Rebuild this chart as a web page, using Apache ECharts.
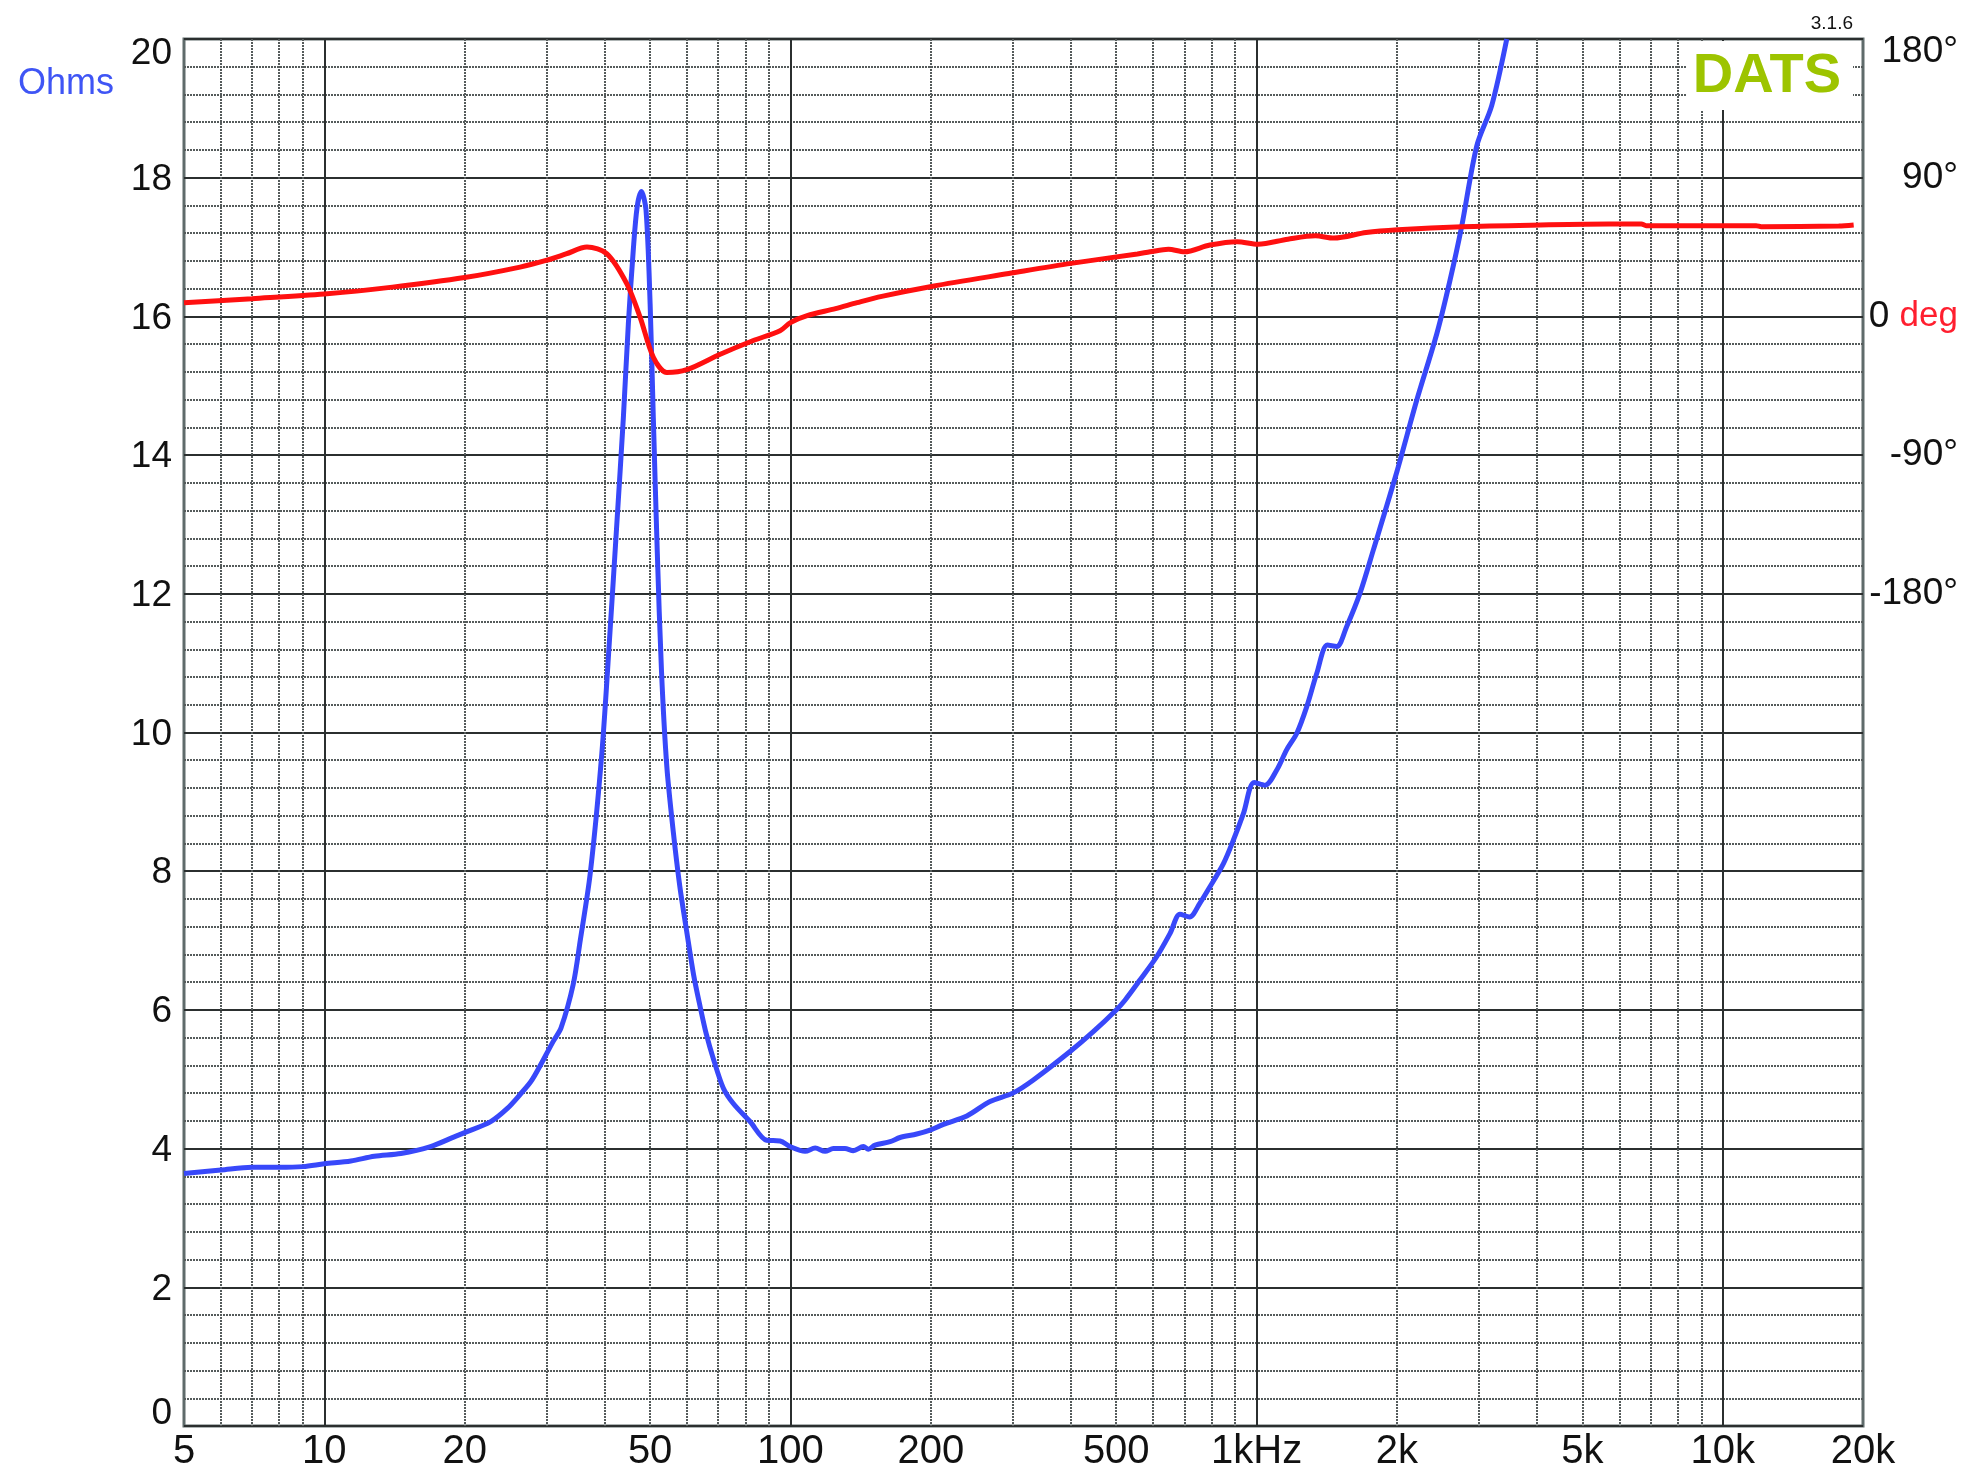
<!DOCTYPE html>
<html>
<head>
<meta charset="utf-8">
<script src="https://cdn.jsdelivr.net/npm/echarts@6/dist/echarts.min.js"></script>
<style>
html,body{margin:0;padding:0;background:#fff;}
#chart{width:1978px;height:1480px;}
</style>
</head>
<body>
<div id="chart"></div>
<script>
// ---- data ----
const freqOhm = [5,6,7,8,9,10,11.4,12.8,14.6,16.9,19,20,22.75,24.7,26.3,27.9,31,32.2,34.2,35.4,37.2,39.4,41,42.4,43.8,44.9,46,46.9,47.9,49,50,50.8,51.8,52.9,54.3,56.1,57.9,60,62,64,66,68.3,71.8,75.4,81.9,88.9,95,99.8,107.5,113,118.7,123.6,130.9,136.4,143.4,146.9,151.9,163.6,171.8,186.6,200,212.9,239,268,300,332,398,447,500,522,562,611,652,685,718,756,795,849,892,937,988,1043,1105,1160,1220,1281,1346,1419,1486,1561,1667,1780,2000,2206,2436,2600,2755,2968,3195,3442];
const ohms = [3.64,3.69,3.73,3.73,3.74,3.78,3.82,3.89,3.93,4.03,4.17,4.23,4.39,4.58,4.78,4.99,5.55,5.74,6.37,7.0,7.97,9.71,11.44,12.99,14.53,15.89,16.95,17.58,17.80,17.53,16.18,14.53,12.60,10.87,9.51,8.55,7.78,7.1,6.5,6.05,5.65,5.3,4.87,4.65,4.39,4.12,4.11,4.03,3.96,4.01,3.96,4.0,4.0,3.97,4.03,3.99,4.05,4.10,4.16,4.21,4.27,4.35,4.47,4.68,4.80,4.99,5.40,5.69,6.0,6.14,6.43,6.77,7.10,7.38,7.34,7.54,7.78,8.11,8.45,8.83,9.28,9.24,9.46,9.75,9.99,10.37,10.85,11.26,11.24,11.53,12.01,12.63,13.76,14.79,15.75,16.52,17.30,18.46,19.04,20.0];

const freqPhase = [5,7,10,14,20,26.3,29.9,33,36.6,40.4,44.6,47.6,50.8,54.3,59.9,70.5,83,95,100,108.6,125,139,157,202,294,400,555,591,647,700,794,909,1007,1167,1337,1465,1718,2010,2762,4065,5708,6692,6850,11795,12100,17740,19100];
const phaseDeg = [8.9,11.5,14.5,19,25.2,32.0,36.3,40.5,45.0,40.6,21.0,-0.6,-26.5,-36.4,-34.6,-24.7,-15.8,-9.3,-4,0.5,5,8.9,13,19.6,27.8,34.4,40.5,41.9,43.6,41.9,46.3,48.5,46.8,50.1,52.3,50.8,54.4,56.2,58.2,59.3,59.9,59.9,58.9,58.9,58.2,58.6,59.3];

// tick values / labels
const xLabelValues = [5,10,20,50,100,200,500,1000,2000,5000,10000,20000];
const xLabelTexts  = ['5','10','20','50','100','200','500','1kHz','2k','5k','10k','20k'];
const xMajorGrid = [10,100,1000,10000];
const xMinorGrid = [6,7,8,9,20,30,40,50,60,70,80,90,200,300,400,500,600,700,800,900,2000,3000,4000,5000,6000,7000,8000,9000];
const phaseLabels = {180:'{top|180°}', 90:'90°', 0:'0 {r|deg}', '-90':'-90°', '-180':'-180°'};

const FONT = '"Liberation Sans Narrow","Arial Narrow","Liberation Sans",Arial,sans-serif';
const majorLine = {color:'#2b2f2f', width:2, type:'solid'};
const minorLine = {color:'#555b5b', width:2, type:[2,1]};

const chart = echarts.init(document.getElementById('chart'), null, {renderer:'canvas'});
const option = {
  animation:false,
  backgroundColor:'#ffffff',
  grid:{left:184, right:115, top:39, bottom:54, show:true, borderColor:'#5f6b6b', borderWidth:3, backgroundColor:'rgba(0,0,0,0)'},
  xAxis:[
    {type:'log', logBase:10, min:5, max:20000,
     axisLine:{show:false}, axisTick:{show:false, customValues:xMajorGrid},
     axisLabel:{show:true, customValues:xLabelValues, margin:6, fontFamily:FONT, fontSize:40, color:'#111',
       formatter:function(v){const i=xLabelValues.indexOf(+v);return i>=0?xLabelTexts[i]:'';}},
     splitLine:{show:true, lineStyle:majorLine}, minorSplitLine:{show:false}},
    {type:'log', logBase:10, min:5, max:20000, position:'bottom',
     axisLine:{show:false}, axisTick:{show:false, customValues:xMinorGrid}, axisLabel:{show:false},
     splitLine:{show:true, lineStyle:minorLine}}
  ],
  yAxis:[
    {type:'value', min:0, max:20, interval:2, position:'left',
     axisLine:{show:false}, axisTick:{show:false},
     axisLabel:{margin:12, fontFamily:FONT, fontSize:37, color:'#111', padding:[4,0,0,0],
       formatter:function(v){return v===20?'{top|20}':(v===0?'{bot|0}':String(v));},
       rich:{top:{fontFamily:FONT, fontSize:37, color:'#111', padding:[26,0,0,0]},
             bot:{fontFamily:FONT, fontSize:37, color:'#111', padding:[0,0,28,0]}}},
     splitLine:{show:true, lineStyle:majorLine},
     minorTick:{show:false, splitNumber:5},
     minorSplitLine:{show:true, lineStyle:minorLine}},
    {type:'value', min:-720, max:180, interval:90, position:'right',
     axisLine:{show:false}, axisTick:{show:false}, splitLine:{show:false},
     axisLabel:{margin:95, align:'right', fontFamily:FONT, fontSize:37, color:'#111',
       formatter:function(v){const k=String(v);return phaseLabels.hasOwnProperty(k)?phaseLabels[k]:'';},
       rich:{top:{fontFamily:FONT, fontSize:37, color:'#111', padding:[26,0,0,0]},
             r:{fontFamily:FONT, fontSize:35, color:'#ff1f2f'}}}}
  ],
  graphic:[
    {type:'text', left:18, top:66, z:100, style:{text:'Ohms', font:'36px "Liberation Sans", Arial, sans-serif', fill:'#3f55f5'}},
    {type:'rect', shape:{x:1687, y:41, width:166, height:69}, z:100, style:{fill:'#ffffff'}},
    {type:'text', x:1767, y:77, z:101, style:{text:'DATS', font:'bold 56px "Liberation Sans", Arial, sans-serif', fill:'#9dc400', align:'center', verticalAlign:'middle'}},
    {type:'text', x:1853, y:24, z:101, style:{text:'3.1.6', font:'19px "Liberation Sans", Arial, sans-serif', fill:'#111', align:'right', verticalAlign:'middle'}}
  ],
  series:[
    {name:'Impedance', type:'line', xAxisIndex:0, yAxisIndex:0, showSymbol:false, smooth:0.3, clip:true,
     lineStyle:{color:'#3848fa', width:5}, z:5,
     data:freqOhm.map(function(f,i){return [f, ohms[i]];})},
    {name:'Phase', type:'line', xAxisIndex:0, yAxisIndex:1, showSymbol:false, smooth:0.3, clip:true,
     lineStyle:{color:'#ff1010', width:5}, z:6,
     data:freqPhase.map(function(f,i){return [f, phaseDeg[i]];})}
  ]
};
chart.setOption(option);
</script>
</body>
</html>
